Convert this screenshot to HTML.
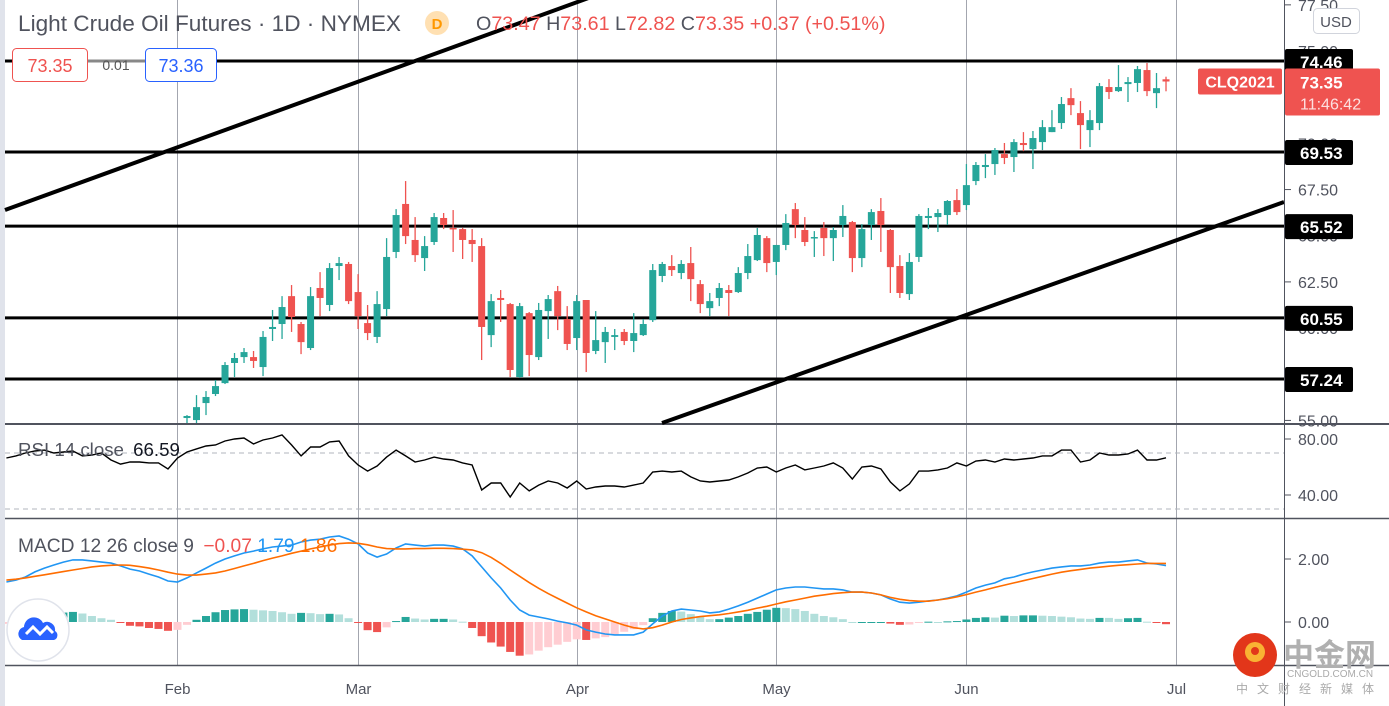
<!DOCTYPE html>
<html><head><meta charset="utf-8"><style>
html,body{margin:0;padding:0;background:#fff;width:1389px;height:706px;overflow:hidden}
svg{display:block;font-family:"Liberation Sans","Noto Sans CJK SC",sans-serif}
</style></head><body>
<svg id="chart" width="1389" height="706" viewBox="0 0 1389 706" xmlns="http://www.w3.org/2000/svg">
<defs>
<clipPath id="cp"><rect x="5" y="0" width="1279" height="423"/></clipPath>
<clipPath id="cr"><rect x="5" y="425" width="1279" height="92"/></clipPath>
<clipPath id="cm"><rect x="5" y="520" width="1279" height="145"/></clipPath>
</defs>
<rect x="0" y="0" width="5" height="706" fill="#e0e3eb"/>
<g id="grid"></g>
<g id="hist" clip-path="url(#cm)"></g>
<g id="lines"></g>
<g id="candles" clip-path="url(#cp)"></g>
<g id="ind"></g>
<g id="axis"></g>

<text x="18" y="31" font-size="22.6" fill="#50535e">Light Crude Oil Futures · 1D · NYMEX</text>
<circle cx="437" cy="23" r="12" fill="#ffe0b2"/>
<text x="437" y="29" font-size="15" font-weight="bold" fill="#ff9800" text-anchor="middle">D</text>
<text x="476" y="30" font-size="19.7"><tspan fill="#50535e">O</tspan><tspan fill="#ef5350">73.47 </tspan><tspan fill="#50535e">H</tspan><tspan fill="#ef5350">73.61 </tspan><tspan fill="#50535e">L</tspan><tspan fill="#ef5350">72.82 </tspan><tspan fill="#50535e">C</tspan><tspan fill="#ef5350">73.35 +0.37 (+0.51%)</tspan></text>
<line x1="88" y1="61" x2="145" y2="61" stroke="#888" stroke-width="3"/>
<rect x="12.5" y="48.5" width="75" height="33" rx="4" fill="#fff" stroke="#ef5350"/>
<text x="50" y="72" font-size="18" fill="#ef5350" text-anchor="middle">73.35</text>
<text x="116" y="70" font-size="14" fill="#555" text-anchor="middle">0.01</text>
<rect x="145.5" y="48.5" width="71" height="33" rx="4" fill="#fff" stroke="#2962ff"/>
<text x="181" y="72" font-size="18" fill="#2962ff" text-anchor="middle">73.36</text>

<text x="18" y="456" font-size="18.7" fill="#50535e">RSI 14 close <tspan fill="#131722" dx="4">66.59</tspan></text>
<text x="18" y="552" font-size="19.2" fill="#50535e">MACD 12 26 close 9 <tspan fill="#ef5350" dx="4">−0.07</tspan> <tspan fill="#2196f3">1.79</tspan> <tspan fill="#ff6d00">1.86</tspan></text>

<rect x="1313.5" y="8.5" width="46" height="25" rx="4" fill="#fff" stroke="#d1d4dc"/>
<text x="1336" y="27" font-size="15" fill="#50535e" text-anchor="middle">USD</text>

<g>
<circle cx="38" cy="630" r="31" fill="#fff" stroke="#e0e3eb" stroke-width="1.5"/>
<path d="M22 640 a7 7 0 0 1 2-13 a10 10 0 0 1 19-4 a8 8 0 0 1 12 8 a5 5 0 0 1 -1 9 z" fill="#2962ff"/>
<path d="M26 634 l7-7 l7 7 l7-7 l6 6" fill="none" stroke="#fff" stroke-width="3"/>
</g>

<g>
<circle cx="1255" cy="655" r="22" fill="#e2361a"/>
<circle cx="1255" cy="652" r="10" fill="#f9b233"/>
<circle cx="1255" cy="651" r="4" fill="#e2361a"/>
<text x="1283" y="666" font-size="31" font-weight="bold" fill="#b0b0b0" font-family="'Noto Sans CJK SC',sans-serif">中金网</text>
<text x="1287" y="677" font-size="10" fill="#aaa">CNGOLD.COM.CN</text>
<text x="1236" y="693" font-size="12" fill="#aaa" letter-spacing="9" font-family="'Noto Sans CJK SC',sans-serif">中文财经新媒体</text>
</g>
</svg>
<script>
const opens=[55.13,55.02,55.94,56.43,57.02,58.11,58.43,58.43,57.89,59.95,60.22,61.73,60.22,58.92,62.17,61.25,63.36,63.47,61.95,60.27,59.52,61.03,64.12,66.72,64.77,63.79,64.66,65.96,65.42,65.36,64.77,64.44,59.62,61.63,61.30,57.35,60.81,58.43,60.92,62.00,60.49,59.46,61.52,58.76,59.24,59.52,59.79,59.30,59.62,60.43,62.82,63.36,62.98,63.52,62.38,61.08,61.63,62.06,61.95,62.98,63.68,64.87,63.58,64.50,66.44,65.31,64.87,65.42,64.87,65.58,65.74,63.79,65.58,66.34,65.31,63.36,61.84,63.85,65.96,66.01,66.12,66.93,66.66,67.96,68.72,68.88,69.42,69.26,70.02,69.69,70.07,70.61,71.10,72.45,71.64,70.72,71.10,73.05,72.83,73.21,73.27,73.97,72.72,73.47];
const highs=[55.29,56.37,56.59,57.19,58.16,58.65,58.92,58.76,59.84,60.98,61.73,62.33,60.33,62.22,63.03,63.52,63.85,63.58,62.92,61.25,62.00,64.87,66.44,67.96,66.01,64.98,66.23,66.23,66.39,65.42,65.36,64.87,61.84,62.06,61.36,61.36,60.87,61.36,61.79,62.28,61.19,61.79,61.52,60.92,60.06,59.95,59.95,60.81,60.49,63.47,63.58,63.95,63.68,64.39,62.60,61.90,62.44,62.33,63.30,64.55,65.42,64.98,64.50,66.17,66.77,66.01,65.25,65.74,65.47,66.66,65.80,65.63,66.44,67.04,65.36,63.95,64.06,66.17,66.50,66.44,66.93,67.53,68.88,68.99,69.42,69.75,70.02,70.23,70.61,70.67,71.26,71.80,72.51,72.99,72.29,71.80,73.27,73.48,74.24,73.59,74.19,74.35,73.81,73.61];
const lows=[54.86,54.86,55.29,56.32,56.97,57.35,58.11,57.84,57.40,59.30,59.41,59.79,58.59,58.81,60.65,60.92,62.60,61.30,59.95,59.35,59.19,60.65,63.79,64.55,63.58,63.09,64.50,65.36,64.12,63.74,63.58,58.27,58.97,60.33,57.35,57.30,57.40,58.27,59.41,59.89,58.81,58.81,57.62,58.59,58.11,58.81,59.08,58.70,59.57,60.33,62.49,62.82,62.65,61.46,60.81,60.65,61.19,60.65,61.90,62.65,63.63,63.03,62.87,64.22,64.87,64.44,63.85,63.90,63.63,64.93,63.03,63.30,64.77,64.12,61.90,61.63,61.52,63.58,65.36,65.20,65.58,66.12,66.39,67.74,68.12,68.29,68.88,68.45,69.58,68.61,69.64,70.61,70.78,71.53,69.69,69.80,70.72,72.40,72.78,72.24,72.78,72.56,71.91,72.82];
const closes=[55.24,55.72,56.27,56.86,58.00,58.38,58.70,58.22,59.52,60.06,61.14,60.60,59.24,61.73,61.63,63.25,63.52,61.46,60.65,59.73,61.30,63.85,66.12,64.98,63.95,64.44,66.01,65.58,65.36,64.77,64.55,60.06,61.46,61.52,57.73,61.19,58.54,60.98,61.57,60.65,59.14,61.46,58.65,59.35,59.79,59.62,59.30,59.73,60.22,63.14,63.47,63.14,63.47,62.65,61.30,61.46,62.17,61.90,62.98,63.90,65.04,63.52,64.50,65.69,65.58,64.66,64.93,64.87,65.31,66.07,63.79,65.36,66.28,65.58,63.30,61.90,63.58,66.07,66.07,66.23,66.88,66.28,67.74,68.83,68.83,69.64,69.21,70.07,69.91,70.29,70.88,70.88,72.13,72.07,70.99,71.26,73.10,72.78,73.05,73.32,74.02,72.83,72.99,73.35];
const rsiValues=[66.4,67.9,70,71.4,72.1,70,70.7,71.4,67.9,68.6,70,65,62.1,63.6,63.6,62.9,62.9,58.6,66.4,70.7,72.9,75,75.7,78.6,80,80.7,76.4,79.3,80.7,82.9,75.7,67.9,74.3,74.3,77.9,78.6,67.9,61.4,57.1,60.7,67.1,72.1,67.9,63.6,65,67.1,65.7,65,62.9,61.4,43.6,48.6,48.6,38.6,48.6,42.9,47.1,50,48.6,45,50,44.3,45.7,46.4,46.4,45.7,47.1,48.6,56.4,57.1,56.4,57.1,52.9,50,49.3,50,50.7,52.9,55.7,59.3,60,56.4,59.3,61.4,57.9,59.3,60.7,62.9,59.3,51.4,60,60.7,58.6,49.3,42.9,47.9,57.1,57.1,57.9,59.3,62.9,60.7,64.3,65,63.6,65.7,65,65.7,66.4,67.9,67.9,72.1,72.1,63.6,65,70,68.6,68.6,69.3,72.1,65,65,66.59];
const macdValues=[1.27,1.33,1.43,1.59,1.71,1.81,1.9,1.97,1.97,1.94,1.9,1.87,1.78,1.68,1.62,1.52,1.43,1.3,1.27,1.4,1.56,1.71,1.87,2.0,2.1,2.19,2.25,2.32,2.38,2.41,2.44,2.54,2.6,2.63,2.7,2.73,2.63,2.48,2.19,2.06,2.16,2.35,2.48,2.44,2.41,2.44,2.44,2.41,2.32,2.1,1.75,1.4,1.08,0.7,0.38,0.22,0.16,0.1,0.03,-0.03,-0.1,-0.25,-0.32,-0.38,-0.41,-0.41,-0.41,-0.32,-0.06,0.19,0.35,0.41,0.38,0.35,0.29,0.32,0.41,0.51,0.63,0.76,0.89,1.02,1.08,1.11,1.11,1.08,1.05,1.05,1.02,0.95,0.95,0.92,0.86,0.73,0.63,0.6,0.63,0.67,0.7,0.76,0.83,0.95,1.08,1.17,1.24,1.37,1.43,1.52,1.59,1.65,1.71,1.75,1.78,1.78,1.81,1.87,1.9,1.9,1.94,1.97,1.87,1.84,1.79];
const signalValues=[1.33,1.36,1.40,1.45,1.5,1.55,1.6,1.65,1.7,1.75,1.78,1.8,1.81,1.8,1.76,1.71,1.65,1.58,1.52,1.49,1.49,1.52,1.56,1.62,1.7,1.78,1.86,1.95,2.03,2.1,2.18,2.25,2.32,2.38,2.44,2.49,2.51,2.5,2.45,2.38,2.33,2.32,2.32,2.33,2.33,2.34,2.34,2.33,2.31,2.29,2.2,2.05,1.86,1.65,1.45,1.25,1.07,0.9,0.75,0.6,0.45,0.32,0.2,0.1,0.0,-0.1,-0.18,-0.22,-0.18,-0.1,0.0,0.08,0.13,0.17,0.2,0.23,0.27,0.32,0.37,0.44,0.5,0.57,0.64,0.7,0.76,0.82,0.86,0.9,0.93,0.95,0.95,0.92,0.86,0.78,0.72,0.68,0.66,0.66,0.7,0.74,0.8,0.87,0.95,1.02,1.1,1.17,1.24,1.31,1.38,1.45,1.52,1.58,1.63,1.67,1.71,1.74,1.77,1.8,1.82,1.84,1.86,1.86,1.86];
const levelValues=[74.46,69.53,65.52,60.55,57.24];
const priceTicks=[77.5,75,72.5,70,67.5,65,62.5,60,57.5,55];
const rsiTicks=[80,40];
const macdTicks=[2,0];
const monthLabels=["Feb","Mar","Apr","May","Jun","Jul"];
const monthBarIndex=[-1,18,41,62,82,104];

const NS="http://www.w3.org/2000/svg";
const FIRST=19;
const xAt=k=>6.4+9.505*k;
const yP=p=>61+(74.46-p)*18.47;
const yR=v=>439+(80-v)*1.4;
const yM=v=>622-v*31.5;
function mk(tag,attrs,parent){const e=document.createElementNS(NS,tag);for(const k in attrs)e.setAttribute(k,attrs[k]);parent.appendChild(e);return e;}
const G=id=>document.getElementById(id);

const grid=G('grid');
monthBarIndex.forEach((b,i)=>{
  const x=Math.round(xAt(b+FIRST))+0.5;
  const l=mk('line',{x1:x,y1:0,x2:x,y2:665,stroke:'#a3a6af','stroke-width':1},grid);
  
  
  const t=mk('text',{x:x,y:694,'font-size':15,fill:'#50535e','text-anchor':'middle'},grid);
  t.textContent=monthLabels[i];
  
  
});
[[424,'price-rsi-separator'],[518.5,'rsi-macd-separator'],[665.5,'time-axis-border']].forEach(([y,n])=>{
  const l=mk('line',{x1:5,y1:y,x2:1389,y2:y,stroke:'#50535e','stroke-width':y===424?2:1.5},grid);
  
  
});
[70,30].forEach(v=>{
  const l=mk('line',{x1:5,y1:yR(v),x2:1284,y2:yR(v),stroke:'#b2b5be','stroke-dasharray':'5 4','stroke-width':1},grid);
  
  
});

const hist=G('hist');
macdValues.forEach((m,k)=>{
  const h=m-signalValues[k];
  const prev=k>0?macdValues[k-1]-signalValues[k-1]:h;
  let c;
  if(h>=0)c=h>=prev?'#26a69a':'#b2dfdb';else c=h<prev?'#ef5350':'#ffcdd2';
  const y0=yM(0),y1=yM(h);
  const r=mk('rect',{x:xAt(k)-4,y:Math.min(y0,y1),width:8,height:Math.max(1,Math.abs(y1-y0)),fill:c},hist);
  
  
});

const lines=G('lines');
levelValues.forEach(v=>{
  const l=mk('line',{x1:5,y1:yP(v),x2:1284,y2:yP(v),stroke:'#000','stroke-width':3},lines);
  
  
});
const t1=mk('line',{x1:5,y1:210,x2:605,y2:-8,stroke:'#000','stroke-width':4},lines);


const t2=mk('line',{x1:662,y1:423,x2:1284,y2:202,stroke:'#000','stroke-width':4},lines);



const cg=G('candles');
opens.forEach((o,i)=>{
  const c=closes[i],x=xAt(i+FIRST),col=c>=o?'#26a69a':'#ef5350';
  const w=mk('line',{x1:x,y1:yP(highs[i]),x2:x,y2:yP(lows[i]),stroke:col,'stroke-width':1.3},cg);
  
  
  const yt=yP(Math.max(o,c)),yb=yP(Math.min(o,c));
  const b=mk('rect',{x:x-3.5,y:yt,width:7,height:Math.max(1.5,yb-yt),fill:col},cg);
  
  
});

const ind=G('ind');
const path=(vals,fy)=>vals.map((v,k)=>(k?'L':'M')+xAt(k).toFixed(1)+' '+fy(v).toFixed(1)).join(' ');
const gR=mk('g',{'clip-path':'url(#cr)'},ind);
const rl=mk('path',{d:path(rsiValues,yR),fill:'none',stroke:'#000','stroke-width':1.4},gR);


const gM=mk('g',{'clip-path':'url(#cm)'},ind);
const ml=mk('path',{d:path(macdValues,yM),fill:'none',stroke:'#2196f3','stroke-width':1.6},gM);


const sl=mk('path',{d:path(signalValues,yM),fill:'none',stroke:'#ff6d00','stroke-width':1.6},gM);



const ax=G('axis');
const al=mk('line',{x1:1284.5,y1:0,x2:1284.5,y2:706,stroke:'#50535e','stroke-width':1},ax);


function tick(y,label,name){
  mk('line',{x1:1284,y1:y,x2:1291,y2:y,stroke:'#50535e'},ax);
  const t=mk('text',{x:1298,y:y+6,'font-size':16,fill:'#50535e'},ax);
  t.textContent=label;
  
  
}
priceTicks.forEach(v=>tick(yP(v),v.toFixed(2),'y-axis-tick'));
rsiTicks.forEach(v=>tick(yR(v),v.toFixed(2),'rsi-axis-tick'));
macdTicks.forEach(v=>tick(yM(v),v.toFixed(2),'macd-axis-tick'));
levelValues.forEach(v=>{
  const y=yP(v);
  const r=mk('rect',{x:1285,y:y-12,width:68,height:25,rx:2,fill:'#000'},ax);
  
  
  const t=mk('text',{x:1300,y:y+7,'font-size':17,'font-weight':'bold',fill:'#fff'},ax);
  t.textContent=v.toFixed(2);
  
  
});
const lastY=yP(closes[closes.length-1]);
const cb=mk('rect',{x:1198,y:lastY-13,width:84,height:26,rx:2,fill:'#ef5350'},ax);


const ct=mk('text',{x:1240,y:lastY+6,'font-size':16,'font-weight':'bold',fill:'#fff','text-anchor':'middle'},ax);
ct.textContent='CLQ2021';


const pb=mk('rect',{x:1285,y:lastY-13,width:95,height:47,rx:2,fill:'#ef5350'},ax);


const pt=mk('text',{x:1300,y:lastY+7,'font-size':17,'font-weight':'bold',fill:'#fff'},ax);
pt.textContent=closes[closes.length-1].toFixed(2);


const tt=mk('text',{x:1300,y:lastY+28,'font-size':16,fill:'#fde0e0'},ax);
tt.textContent='11:46:42';


</script>
</body></html>
